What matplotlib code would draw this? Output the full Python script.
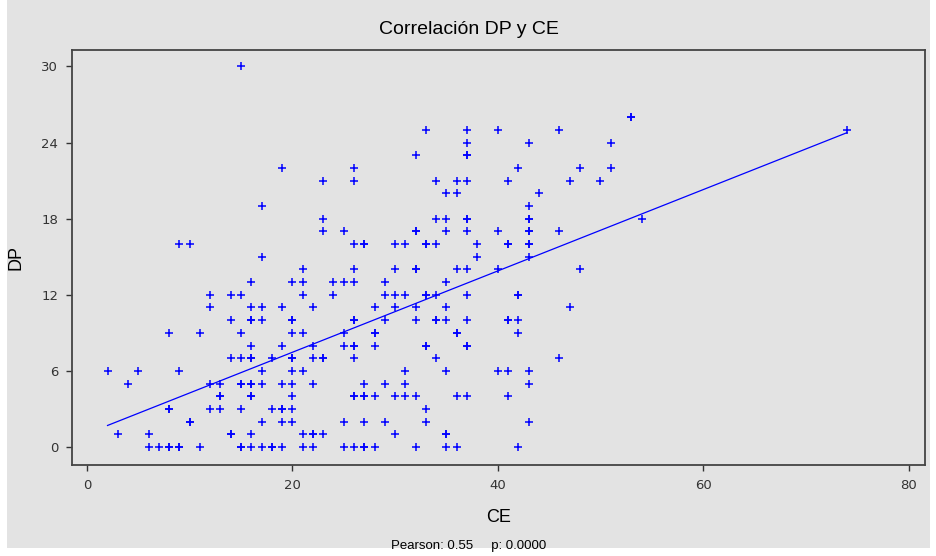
import numpy as np
import matplotlib
matplotlib.use("Agg")
import matplotlib.pyplot as plt
from matplotlib.patches import Rectangle

# CE values grouped by DP level
dp_levels = [30, 26, 25, 24, 23, 22, 21, 20, 19, 18, 17, 16, 15, 14, 13, 12,
             11, 10, 9, 8, 7, 6, 5, 4, 3, 2, 1, 0]
ce_by_dp = [
    [15],
    [53, 53],
    [33, 37, 40, 46, 74],
    [37, 43, 51],
    [32, 37, 37],
    [19, 26, 42, 48, 51],
    [23, 26, 34, 36, 37, 41, 47, 50],
    [35, 36, 44],
    [17, 43],
    [23, 34, 35, 37, 37, 43, 43, 54],
    [23, 25, 32, 32, 35, 37, 40, 43, 43, 46],
    [9, 10, 26, 27, 27, 30, 31, 33, 33, 34, 38, 41, 41, 43, 43],
    [17, 38, 43],
    [21, 26, 30, 32, 32, 36, 37, 40, 48],
    [16, 20, 21, 24, 25, 26, 29, 35],
    [12, 14, 15, 21, 24, 29, 30, 31, 33, 33, 34, 37, 42, 42],
    [12, 16, 17, 19, 22, 28, 30, 32, 35, 47],
    [14, 16, 16, 17, 20, 20, 26, 26, 29, 32, 34, 34, 35, 37, 41, 41, 42],
    [8, 11, 15, 20, 21, 25, 28, 28, 36, 36, 42],
    [16, 19, 22, 25, 26, 26, 28, 33, 33, 37, 37],
    [14, 15, 16, 16, 18, 20, 20, 22, 23, 23, 26, 34, 46],
    [2, 5, 9, 17, 20, 21, 31, 35, 40, 41, 43],
    [4, 12, 13, 15, 15, 16, 16, 17, 19, 20, 22, 27, 29, 31, 43],
    [13, 13, 16, 16, 20, 26, 26, 27, 27, 28, 30, 31, 32, 36, 37, 41],
    [8, 8, 12, 13, 15, 18, 19, 19, 20, 33],
    [10, 10, 17, 19, 20, 25, 27, 29, 33, 43],
    [3, 6, 14, 14, 16, 21, 22, 22, 23, 30, 35, 35],
    [6, 7, 8, 8, 9, 9, 11, 15, 15, 16, 17, 18, 18, 19, 21, 22, 25, 26, 27,
     27, 28, 32, 35, 36, 42],
]
x_ticks = [0, 20, 40, 60, 80]
y_ticks = [0, 6, 12, 18, 24, 30]
title = "Correlación DP y CE"
footnote = "Pearson: 0.55     p: 0.0000"

ce = np.array([c for cs in ce_by_dp for c in cs], dtype=float)
dp = np.array([d for d, cs in zip(dp_levels, ce_by_dp) for _ in cs], dtype=float)

bg = "#e3e3e3"
blue = "#0000ff"

fig = plt.figure(figsize=(9.37, 5.56), dpi=100, facecolor="white")
fig.patches.append(Rectangle((7 / 937, 8 / 556), 923 / 937, 548 / 556,
                             transform=fig.transFigure, facecolor=bg,
                             edgecolor="none", zorder=-10))
ax = fig.add_axes([72 / 937, (556 - 465) / 556, (925 - 72) / 937, (465 - 50) / 556])
ax.set_facecolor(bg)

ax.plot(ce, dp, linestyle="none", marker="+", color=blue, markersize=5.5,
        markeredgewidth=1.1)

# least squares line over the data range
slope, inter = np.polyfit(ce, dp, 1)
xs = np.array([ce.min(), ce.max()])
ax.plot(xs, slope * xs + inter, color=blue, linewidth=0.9)

ax.set_xlim(-1.46, 81.6)
ax.set_ylim(-1.42, 31.3)
ax.set_xticks(x_ticks)
ax.set_yticks(y_ticks)
ax.tick_params(direction="out", length=4, width=1, colors="#333333",
               labelsize=9.5, pad=6)
for s in ax.spines.values():
    s.set_color("#444444")
    s.set_linewidth(1.3)

ax.set_xlabel("CE", fontsize=13, family="Liberation Sans", labelpad=12)
ax.set_ylabel("DP", fontsize=13, family="Liberation Sans", labelpad=12)
fig.text(0.5, 1 - 30 / 556, title, ha="center", va="center", fontsize=14,
         family="Liberation Sans")
fig.text(0.5, 1 - 546 / 556, footnote, ha="center", va="center",
         fontsize=9.5, family="Liberation Sans")

fig.savefig("out.png", dpi=100, facecolor=fig.get_facecolor())
